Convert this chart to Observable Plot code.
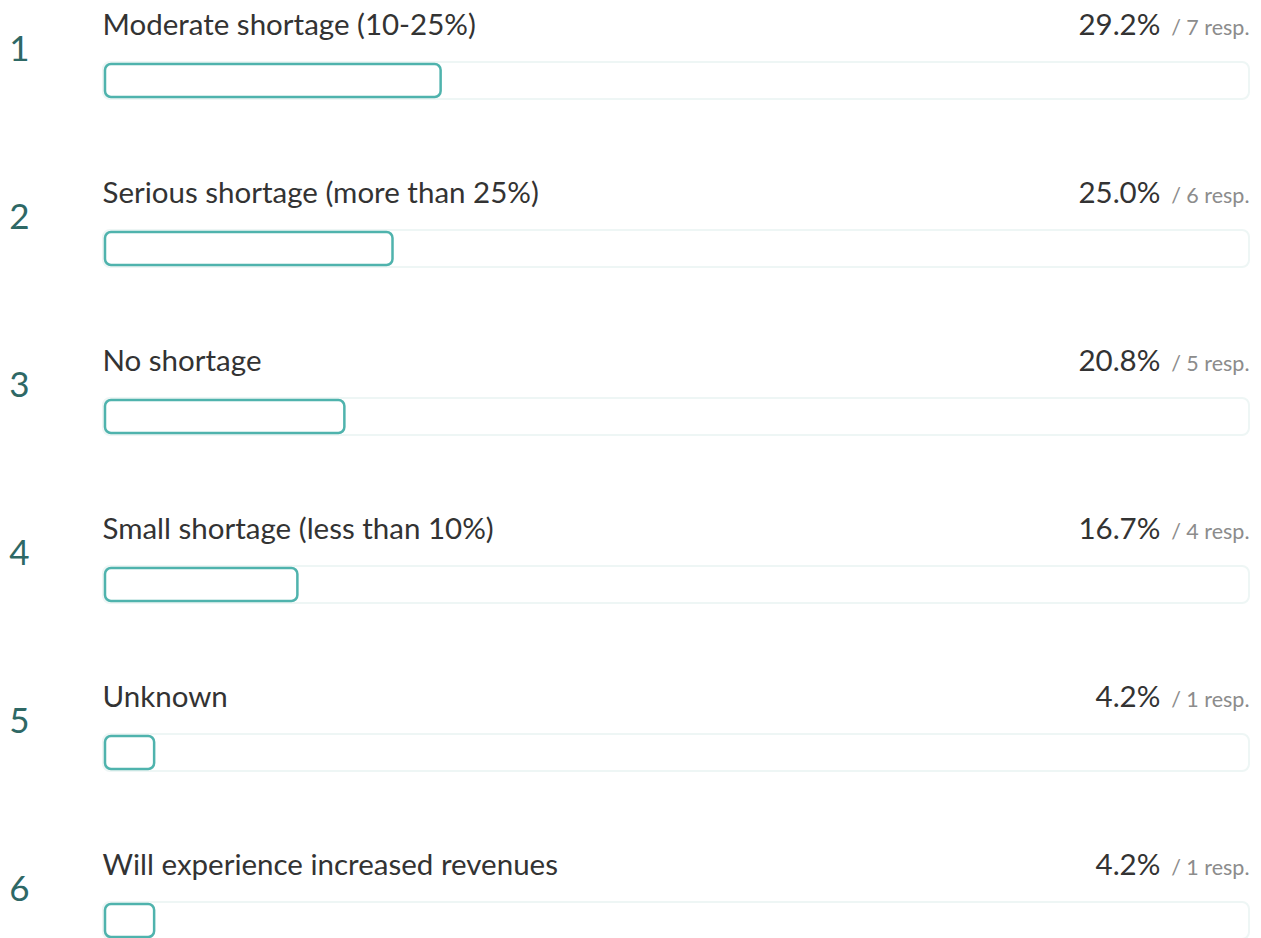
<!DOCTYPE html>
<html>
<head>
<meta charset="utf-8">
<script src="https://cdn.jsdelivr.net/npm/d3@7"></script>
<script src="https://cdn.jsdelivr.net/npm/@observablehq/plot@0.6"></script>
<style>
  html, body { margin: 0; padding: 0; background: #fff; }
  #chart svg { display: block; }
</style>
</head>
<body>
<div id="chart"></div>
<script>
const categories = [
  "Moderate shortage (10-25%)",
  "Serious shortage (more than 25%)",
  "No shortage",
  "Small shortage (less than 10%)",
  "Unknown",
  "Will experience increased revenues"
];
const percents = [29.2, 25.0, 20.8, 16.7, 4.2, 4.2];
const responses = [7, 6, 5, 4, 1, 1];
const ranks = [1, 2, 3, 4, 5, 6];

const data = categories.map((c, i) => ({
  category: c, pct: percents[i], resp: responses[i], rank: ranks[i]
}));

const FONT = "Lato, 'Noto Sans', sans-serif";

const chart = Plot.plot({
  width: 1261,
  height: 938,
  margin: 0,
  style: { fontFamily: FONT, background: "#fff" },
  x: { domain: [0, 100], range: [103, 1249], axis: null },
  y: { type: "band", domain: categories, range: [0, 1008], padding: 0, axis: null },
  marks: [
    // track
    Plot.barX(data, {
      x1: 0, x2: 100, y: "category",
      fill: "#fff", stroke: "#eef6f5", strokeWidth: 2,
      insetTop: 62, insetBottom: 69, rx: 7
    }),
    // value bar
    Plot.barX(data, {
      x1: 0, x2: "pct", y: "category",
      fill: "#fff", stroke: "#4fb3ad", strokeWidth: 2.5,
      insetTop: 64, insetBottom: 71, insetLeft: 2, insetRight: -3, rx: 6
    }),
    // category label
    Plot.text(data, {
      x: 0, y: "category", text: "category",
      textAnchor: "start", lineAnchor: "bottom",
      dx: -1, dy: -50, fontSize: 29.5, fill: "#333"
    }),
    // rank number
    Plot.text(data, {
      x: 0, y: "category", text: d => String(d.rank),
      textAnchor: "middle", lineAnchor: "bottom",
      dx: -84, dy: -24, fontSize: 35, fill: "#2e6865"
    }),
    // percent + responses
    Plot.text(data, {
      x: 100, y: "category", text: d => d.pct.toFixed(1) + "%",
      textAnchor: "end", lineAnchor: "bottom",
      dy: -50, fontSize: 29.5, fill: "#333"
    })
  ]
});

const textGroups = d3.select(chart).selectAll("g[aria-label=text]").nodes();
d3.select(textGroups[textGroups.length - 1]).selectAll("text").each(function(_, i) {
  d3.select(this).append("tspan")
    .attr("font-size", 21.5)
    .attr("fill", "#8c8c8c")
    .text("\u2002/ " + data[i].resp + " resp.");
});

document.getElementById("chart").appendChild(chart);
</script>
</body>
</html>
